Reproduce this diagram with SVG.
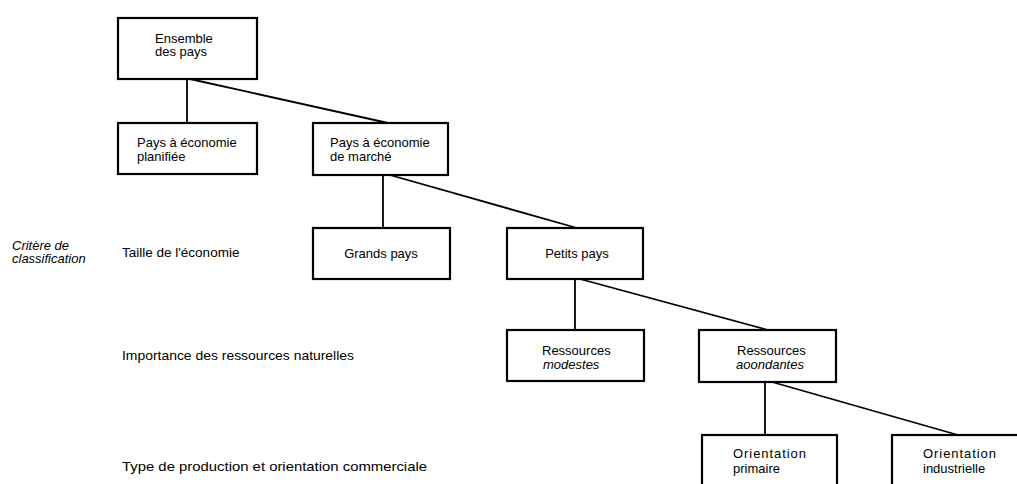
<svg xmlns="http://www.w3.org/2000/svg" width="1017" height="484" viewBox="0 0 1017 484">
<style>
.box{fill:#fff;stroke:#000;stroke-width:2.2}
.ln{stroke:#000;stroke-width:1.8;fill:none}
text{font-family:"Liberation Sans",Arial,sans-serif;font-size:13px;fill:#000}
.it{font-style:italic}
.crit{font-size:13.5px}
</style>
<rect width="1017" height="484" fill="#fff"/>
<g id="connectors">
<line class="ln" x1="187" y1="79" x2="187" y2="123"/>
<line class="ln" x1="190" y1="79" x2="388" y2="123"/>
<line class="ln" x1="383" y1="175" x2="383" y2="228"/>
<line class="ln" x1="390" y1="175" x2="577" y2="228"/>
<line class="ln" x1="575" y1="279" x2="575" y2="330"/>
<line class="ln" x1="580" y1="279" x2="768" y2="330"/>
<line class="ln" x1="765" y1="382" x2="765" y2="435"/>
<line class="ln" x1="772" y1="382" x2="958" y2="435"/>
</g>
<g id="labels">
<text class="it" x="12" y="250">Critère de</text>
<text class="it" x="12" y="263">classification</text>
<text class="crit" x="122" y="257">Taille de l'économie</text>
<text class="crit" x="122" y="360" textLength="232" lengthAdjust="spacingAndGlyphs">Importance des ressources naturelles</text>
<text class="crit" x="122" y="471" textLength="305" lengthAdjust="spacingAndGlyphs">Type de production et orientation commerciale</text>
</g>
<g id="n-ensemble">
<rect class="box" x="118" y="18" width="139" height="61"/>
<text x="155" y="43">Ensemble</text>
<text x="155" y="56">des pays</text>
</g>
<g id="n-planifiee">
<rect class="box" x="118" y="123" width="139" height="51"/>
<text x="137" y="147">Pays à économie</text>
<text x="137" y="161">planifiée</text>
</g>
<g id="n-marche">
<rect class="box" x="313" y="123" width="135" height="52"/>
<text x="330" y="147">Pays à économie</text>
<text x="330" y="161">de marché</text>
</g>
<g id="n-grands">
<rect class="box" x="313" y="228" width="137" height="51"/>
<text x="381" y="258" text-anchor="middle">Grands pays</text>
</g>
<g id="n-petits">
<rect class="box" x="507" y="228" width="136" height="51"/>
<text x="577" y="258" text-anchor="middle">Petits pays</text>
</g>
<g id="n-modestes">
<rect class="box" x="507" y="330" width="137" height="51"/>
<text x="542" y="355">Ressources</text>
<text class="it" x="543" y="369">modestes</text>
</g>
<g id="n-abondantes">
<rect class="box" x="699" y="330" width="137" height="52"/>
<text x="737" y="355">Ressources</text>
<text class="it" x="736" y="369">aoondantes</text>
</g>
<g id="n-primaire">
<rect class="box" x="702" y="435" width="135" height="70"/>
<text x="733" y="458" textLength="73" lengthAdjust="spacing">Orientation</text>
<text x="733" y="473">primaire</text>
</g>
<g id="n-industrielle">
<rect class="box" x="892" y="435" width="140" height="70"/>
<text x="923" y="458" textLength="73" lengthAdjust="spacing">Orientation</text>
<text x="923" y="473">industrielle</text>
</g>
</svg>
